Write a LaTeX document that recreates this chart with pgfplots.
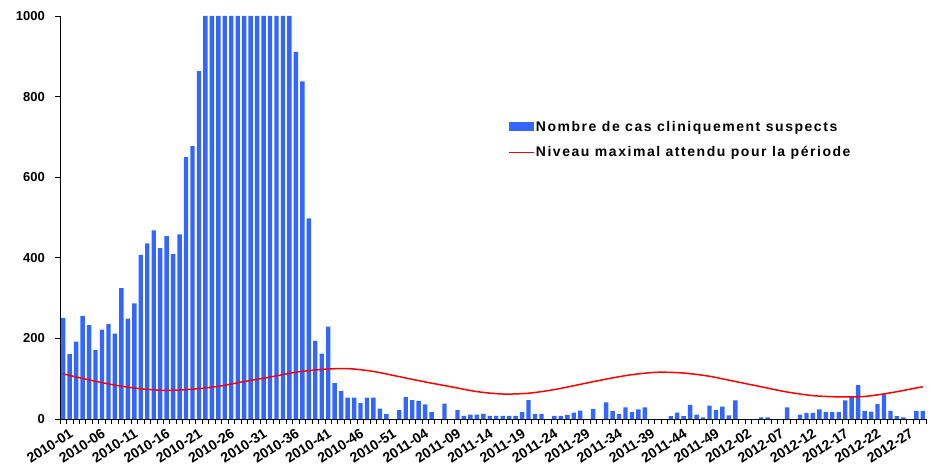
\documentclass[border=0pt]{standalone}
\usepackage{fontspec}
\setmainfont{Liberation Sans}
\newfontfamily\legfont{Liberation Sans}[LetterSpace=11]
\newcommand\xl[1]{{\fontsize{14}{16}\selectfont\bfseries #1}}
\newcommand\yl[1]{{\fontsize{13}{15}\selectfont\bfseries #1}}
\usepackage{pgfplots}
\pgfplotsset{compat=1.18}
\definecolor{barblue}{RGB}{51,102,255}
\begin{document}
\begin{tikzpicture}
\path[use as bounding box] (-60pt,-47pt) rectangle (871pt,419pt);
\begin{axis}[
  at={(0pt,0pt)}, anchor=south west,
  scale only axis, width=866pt, height=403pt,
  xmin=-0.5, xmax=133.5, ymin=0, ymax=1000,
  axis x line=bottom, axis y line=left,
  axis line style={-, black, line width=0.8pt},
  tick align=outside,
  major tick length=0pt,
  minor tick length=4.5pt,
  tick style={black, line width=0.8pt},
  xtick={0,5,...,130},
  xticklabels={\xl{2010-01},\xl{2010-06},\xl{2010-11},\xl{2010-16},\xl{2010-21},\xl{2010-26},\xl{2010-31},\xl{2010-36},\xl{2010-41},\xl{2010-46},\xl{2010-51},\xl{2011-04},\xl{2011-09},\xl{2011-14},\xl{2011-19},\xl{2011-24},\xl{2011-29},\xl{2011-34},\xl{2011-39},\xl{2011-44},\xl{2011-49},\xl{2012-02},\xl{2012-07},\xl{2012-12},\xl{2012-17},\xl{2012-22},\xl{2012-27}},
  minor xtick={-0.5,0.5,...,133.5},
  xticklabel style={rotate=33, anchor=north east, inner sep=1pt, yshift=-9pt, xshift=1pt},
  ytick={0,200,...,1000},
  yticklabels={\yl{0},\yl{200},\yl{400},\yl{600},\yl{800},\yl{1000}},
  minor ytick={0,200,...,1000},
  yticklabel style={inner sep=1pt, xshift=-14pt},
  legend style={at={(0.517,0.744)}, anchor=north west, draw=none, fill=none, inner sep=0pt,
    font=\legfont\bfseries\fontsize{14}{16}\selectfont, row sep=11pt,
    nodes={inner sep=1.5pt}},
  legend cell align=left,
]
\addplot[ybar, bar width=0.68, fill=barblue, draw=none,
  legend image code/.code={\fill[barblue] (0pt,-4pt) rectangle (25pt,5pt);}]
coordinates {
(0,251)(1,161)(2,192)(3,256)(4,233)(5,171)(6,222)(7,236)(8,212)(9,325)
(10,249)(11,287)(12,407)(13,436)(14,468)(15,424)(16,454)(17,409)(18,458)(19,650)
(20,677)(21,863)(22,1000)(23,1000)(24,1000)(25,1000)(26,1000)(27,1000)(28,1000)(29,1000)
(30,1000)(31,1000)(32,1000)(33,1000)(34,1000)(35,1000)(36,911)(37,838)(38,498)(39,194)
(40,162)(41,229)(42,89)(43,69)(44,53)(45,53)(46,40)(47,53)(48,53)(49,26)
(50,12)(51,0)(52,22)(53,54)(54,47)(55,45)(56,36)(57,17)(58,0)(59,38)
(60,0)(61,22)(62,8)(63,11)(64,11)(65,13)(66,8)(67,8)(68,8)(69,8)
(70,8)(71,17)(72,47)(73,13)(74,13)(75,0)(76,8)(77,8)(78,10)(79,16)
(80,21)(81,0)(82,25)(83,0)(84,41)(85,20)(86,12)(87,29)(88,17)(89,24)
(90,29)(91,0)(92,0)(93,0)(94,7)(95,16)(96,7)(97,35)(98,11)(99,4)
(100,33)(101,22)(102,31)(103,9)(104,46)(105,0)(106,0)(107,0)(108,4)(109,4)
(110,0)(111,0)(112,29)(113,0)(114,11)(115,15)(116,15)(117,24)(118,17)(119,17)
(120,17)(121,46)(122,55)(123,84)(124,20)(125,18)(126,37)(127,62)(128,20)(129,7)
(130,4)(131,0)(132,20)(133,20)
};
\addlegendentry{Nombre de cas cliniquement suspects}
\addplot[red, line width=1.5pt, smooth, mark=none,
  legend image code/.code={\draw[red, line width=1.5pt] (0pt,0pt) -- (25pt,0pt);}]
coordinates {
(0,112)(4,97)(8,84)(12,75)(16,71)(20,74)(24,81)(28,93)(32,104)(36,116)
(40,123)(44,125)(48,118)(52,105)(56,92)(60,80)(64,68)(68,62)(72,64)(76,73)
(80,86)(84,99)(88,110)(92,116)(96,114)(100,106)(104,93)(108,80)(112,67)(116,58)
(120,55)(124,56)(128,65)(132,77)(133,80)
};
\addlegendentry{Niveau maximal attendu pour la période}
\end{axis}
\end{tikzpicture}
\end{document}
